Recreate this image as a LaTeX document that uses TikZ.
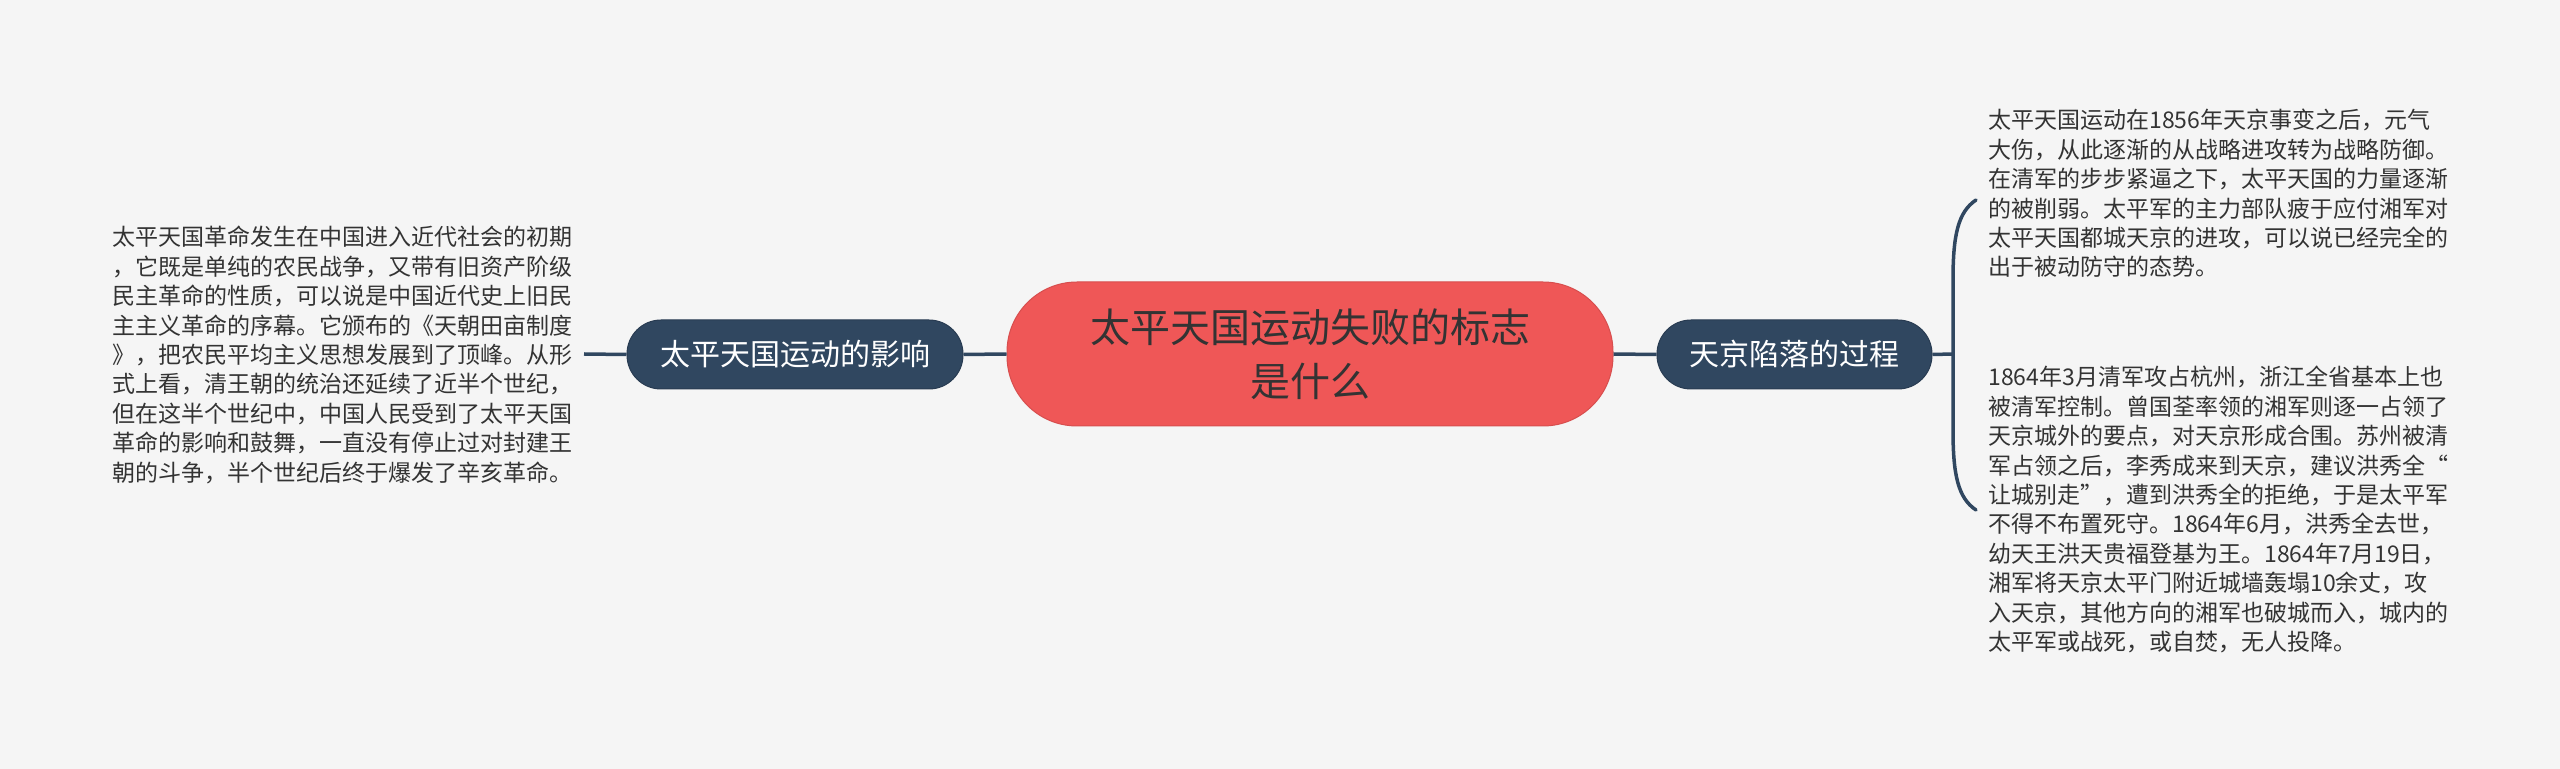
\documentclass[tikz,border=0pt]{standalone}
\usepackage{fontspec}
\newfontfamily\cjk{Noto Sans CJK SC}
\definecolor{bgc}{HTML}{F5F5F5}
\definecolor{navy}{HTML}{304760}
\definecolor{coral}{HTML}{EF5757}
\definecolor{txt}{HTML}{333333}
\tikzset{
  centerbox/.style={draw=coral!90!black, line width=0.5pt, fill=coral, rounded corners=35pt, minimum width=303pt, minimum height=72pt, inner sep=0pt, align=center, text=txt, font=\cjk\fontsize{20}{27}\selectfont},
  topicbox/.style={draw=navy!85!black, line width=0.5pt, fill=navy, rounded corners=17pt, minimum height=34.5pt, inner sep=0pt, text=white, font=\cjk\fontsize{15}{18}\selectfont},
  bodytext/.style={anchor=base west, inner sep=0pt, text width=240pt, align=left, text=txt, font=\cjk\fontsize{11.5}{14.7}\selectfont},
  link/.style={draw=navy, line width=1.75pt}
}
\begin{document}
\begin{tikzpicture}[x=0.5pt,y=-0.5pt]
\fill[bgc] (0,0) rectangle (2560,769);
\useasboundingbox (0,0) rectangle (2560,769);

\node[centerbox] (center) at (1310,354) {太平天国运动失败的标志\\是什么};
\node[topicbox, minimum width=168pt] (left) at (795,354.5) {太平天国运动的影响};
\node[topicbox, minimum width=137.5pt] (right) at (1794.5,354.5) {天京陷落的过程};

\node[bodytext] (ltext) at (112,246) {太平天国革命发生在中国进入近代社会的初期\\，它既是单纯的农民战争，又带有旧资产阶级\\民主革命的性质，可以说是中国近代史上旧民\\主主义革命的序幕。它颁布的《天朝田亩制度\\》，把农民平均主义思想发展到了顶峰。从形\\式上看，清王朝的统治还延续了近半个世纪，\\但在这半个世纪中，中国人民受到了太平天国\\革命的影响和鼓舞，一直没有停止过对封建王\\朝的斗争，半个世纪后终于爆发了辛亥革命。};

\node[bodytext] (rtext1) at (1988,129) {太平天国运动在1856年天京事变之后，元气\\大伤，从此逐渐的从战略进攻转为战略防御。\\在清军的步步紧逼之下，太平天国的力量逐渐\\的被削弱。太平军的主力部队疲于应付湘军对\\太平天国都城天京的进攻，可以说已经完全的\\出于被动防守的态势。};

\node[bodytext] (rtext2) at (1988,386) {1864年3月清军攻占杭州，浙江全省基本上也\\被清军控制。曾国荃率领的湘军则逐一占领了\\天京城外的要点，对天京形成合围。苏州被清\\军占领之后，李秀成来到天京，建议洪秀全“\\让城别走”，遭到洪秀全的拒绝，于是太平军\\不得不布置死守。1864年6月，洪秀全去世，\\幼天王洪天贵福登基为王。1864年7月19日，\\湘军将天京太平门附近城墙轰塌10余丈，攻\\入天京，其他方向的湘军也破城而入，城内的\\太平军或战死，或自焚，无人投降。};

\coordinate (lend) at (584,354);
\coordinate (bmid) at (1953,354);
\coordinate (btop) at (1976,200);
\coordinate (bbot) at (1976,510);

\draw[link] (center.west) -- (left.east);
\draw[link] (left.west) -- (lend);
\draw[link] (center.east) -- (right.west);
\draw[link] (right.east) -- (bmid);
\draw[link, line cap=round] (btop) .. controls (1958,212) and (1953,235) .. (1953,280) -- (bmid) -- (1953,430) .. controls (1953,475) and (1958,498) .. (bbot);
\end{tikzpicture}
\end{document}
